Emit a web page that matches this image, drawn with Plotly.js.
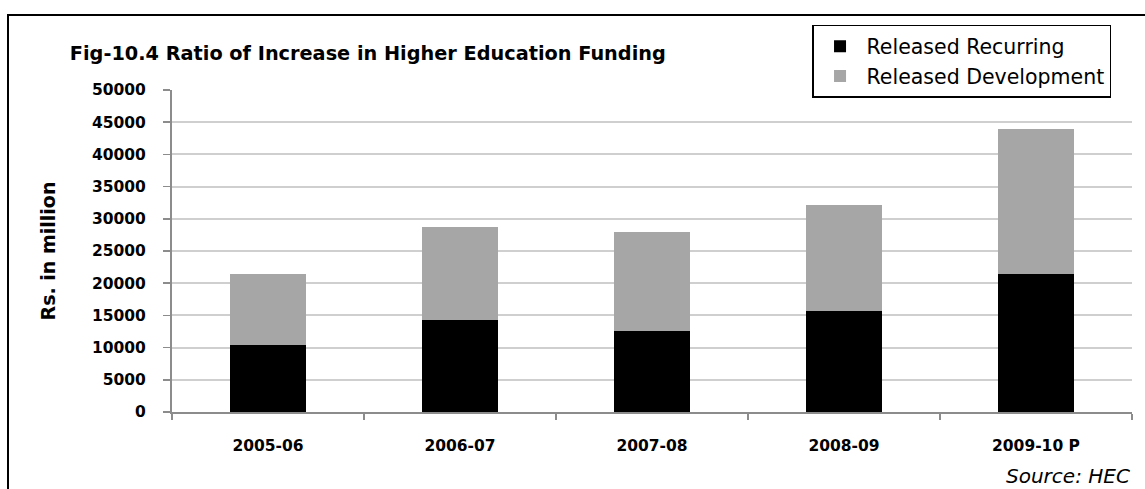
<!DOCTYPE html>
<html>
<head>
<meta charset="utf-8">
<script src="https://cdn.plot.ly/plotly-3.0.1.min.js"></script>
<style>
  html, body { margin: 0; padding: 0; background: #fff; }
  #wrap { position: relative; width: 1145px; height: 489px; overflow: hidden; }
  #chart { width: 1145px; height: 489px; }
  #frame { position: absolute; left: 7px; top: 14px; width: 1200px; height: 520px;
           border-left: 2px solid #000; border-top: 2px solid #000; pointer-events: none; box-sizing: border-box; }
</style>
</head>
<body>
<div id="wrap">
  <div id="chart"></div>
  <div id="frame"></div>
</div>
<script>
const years = ["2005-06", "2006-07", "2007-08", "2008-09", "2009-10 P"];
const releasedRecurring = [10400, 14300, 12550, 15700, 21400];
const releasedDevelopment = [11000, 14450, 15350, 16450, 22550];
const yTicks = [0, 5000, 10000, 15000, 20000, 25000, 30000, 35000, 40000, 45000, 50000];

const FONT = "'DejaVu Sans', 'Open Sans', sans-serif";

const traces = [
  {
    type: "bar", name: "Released Recurring", x: years, y: releasedRecurring,
    marker: { color: "#000000", line: { width: 0 } }
  },
  {
    type: "bar", name: "Released Development", x: years, y: releasedDevelopment,
    marker: { color: "#a6a6a6", line: { width: 0 } }
  }
];

const layout = {
  width: 1145, height: 489,
  margin: { l: 172, r: 13, t: 90, b: 77 },
  paper_bgcolor: "#ffffff", plot_bgcolor: "#ffffff",
  barmode: "stack", bargap: 0.6,
  font: { family: FONT, color: "#000" },
  title: {
    text: "<b>Fig-10.4 Ratio of Increase in Higher Education Funding</b>",
    font: { family: FONT, size: 19.3, color: "#000" },
    xref: "container", x: 0.061, xanchor: "left",
    yref: "container", y: 0.892, yanchor: "middle"
  },
  xaxis: {
    type: "category",
    showline: true, linecolor: "#8c8c8c", linewidth: 2,
    ticks: "outside", tickson: "boundaries", ticklen: 6, tickwidth: 1.5, tickcolor: "#8c8c8c",
    showgrid: false, zeroline: false,
    tickfont: { family: FONT, size: 15.5, color: "#000", weight: "bold" },
    ticklabelstandoff: 18
  },
  yaxis: {
    range: [0, 50000], tickvals: yTicks, ticktext: yTicks.map(String),
    showline: true, linecolor: "#8c8c8c", linewidth: 2,
    ticks: "outside", ticklen: 7, tickwidth: 1.5, tickcolor: "#8c8c8c",
    showgrid: true, gridcolor: "#cfcfcf", gridwidth: 2, zeroline: false,
    tickfont: { family: FONT, size: 15.5, color: "#000", weight: "bold" },
    ticklabelstandoff: 14,
    title: { text: "<b>Rs. in million</b>", font: { family: FONT, size: 19, color: "#000" }, standoff: 31 }
  },
  showlegend: true,
  legend: {
    x: 0.6667, xanchor: "left", y: 1.202, yanchor: "top",
    traceorder: "normal",
    itemwidth: 43,
    bordercolor: "#000", borderwidth: 1.5, bgcolor: "#fff",
    font: { family: FONT, size: 20.5, color: "#000" },
    tracegroupgap: 0
  },
  annotations: [
    {
      xref: "paper", yref: "paper", x: 1.0, y: -0.2, xanchor: "right", yanchor: "middle",
      text: "<i>Source: HEC</i>", showarrow: false,
      font: { family: FONT, size: 20, color: "#000" }
    }
  ]
};

Plotly.newPlot("chart", traces, layout, { displayModeBar: false, staticPlot: true });
</script>
</body>
</html>
